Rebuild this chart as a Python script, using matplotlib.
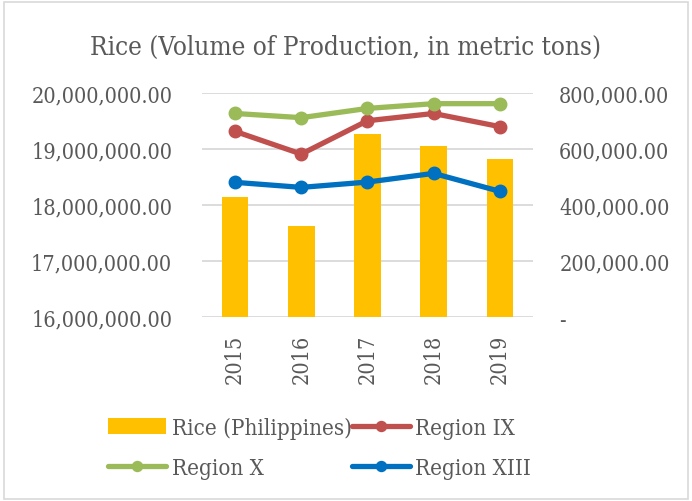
import matplotlib.pyplot as plt
import numpy as np
from matplotlib.ticker import FuncFormatter
from matplotlib.patches import Rectangle

years = ["2015", "2016", "2017", "2018", "2019"]
rice_ph = [18150000, 17625000, 19270000, 19060000, 18820000]
region_ix = [663000, 582000, 701000, 727000, 680000]
region_x = [727000, 712000, 745000, 762000, 762000]
region_xiii = [481000, 463000, 482000, 513000, 449000]

TEXT = "#595959"
GRID = "#D9D9D9"
plt.rcParams['font.family'] = ['DejaVu Serif']
plt.rcParams['font.stretch'] = 'condensed'


def money(v, pos):
    if abs(v) < 1e-6:
        return "-"
    return f"{v:,.2f}"


fig = plt.figure(figsize=(6.92, 5.02), dpi=100)
fig.patches.append(Rectangle((0.006, 0.004), 0.988, 0.99, transform=fig.transFigure,
                             fill=False, edgecolor="#D9D9D9", linewidth=1.2))

ax = fig.add_axes([0.292, 0.3665, 0.478, 0.4462])
x = np.arange(len(years))
ax.bar(x, rice_ph, width=0.4, color="#FFC000", label="Rice (Philippines)", zorder=2)
ax.set_ylim(16000000, 20000000)
ax.set_yticks(np.arange(16000000, 20000001, 1000000))
ax.yaxis.set_major_formatter(FuncFormatter(money))
ax.set_xlim(-0.5, len(years) - 0.5)
ax.set_xticks(x)
ax.set_xticklabels(years, rotation=90)
ax.grid(axis="y", color=GRID, linewidth=1.3, zorder=0)
ax.set_axisbelow(True)
for s in ax.spines.values():
    s.set_visible(False)
ax.tick_params(length=0, labelsize=15.5, labelcolor=TEXT)
ax.tick_params(axis="y", pad=21.5)
ax.tick_params(axis="x", pad=12)

ax2 = ax.twinx()
ax2.set_ylim(0, 800000)
ax2.set_yticks(np.arange(0, 800001, 200000))
ax2.yaxis.set_major_formatter(FuncFormatter(money))
for s in ax2.spines.values():
    s.set_visible(False)
ax2.tick_params(length=0, labelsize=15.5, labelcolor=TEXT, pad=19)

kw = dict(linewidth=3.8, marker="o", markersize=9, solid_capstyle="round", zorder=3)
ax2.plot(x, region_ix, color="#C0504D", label="Region IX", **kw)
ax2.plot(x, region_x, color="#9BBB59", label="Region X", **kw)
ax2.plot(x, region_xiii, color="#0070C0", label="Region XIII", **kw)

fig.text(0.5, 0.906, "Rice (Volume of Production, in metric tons)", ha="center",
         va="center", fontsize=18.7, color=TEXT)

h1, l1 = ax.get_legend_handles_labels()
h2, l2 = ax2.get_legend_handles_labels()
handles = [h1[0], h2[1], h2[0], h2[2]]
labels = [l1[0], l2[1], l2[0], l2[2]]
leg = fig.legend(handles, labels, ncol=2, loc="center", bbox_to_anchor=(0.462, 0.106),
                 frameon=False, fontsize=16, labelcolor=TEXT, handlelength=2.6,
                 handletextpad=0.25, columnspacing=0.0, labelspacing=0.82,
                 markerscale=0.8)

fig.savefig("out.png", dpi=100)
